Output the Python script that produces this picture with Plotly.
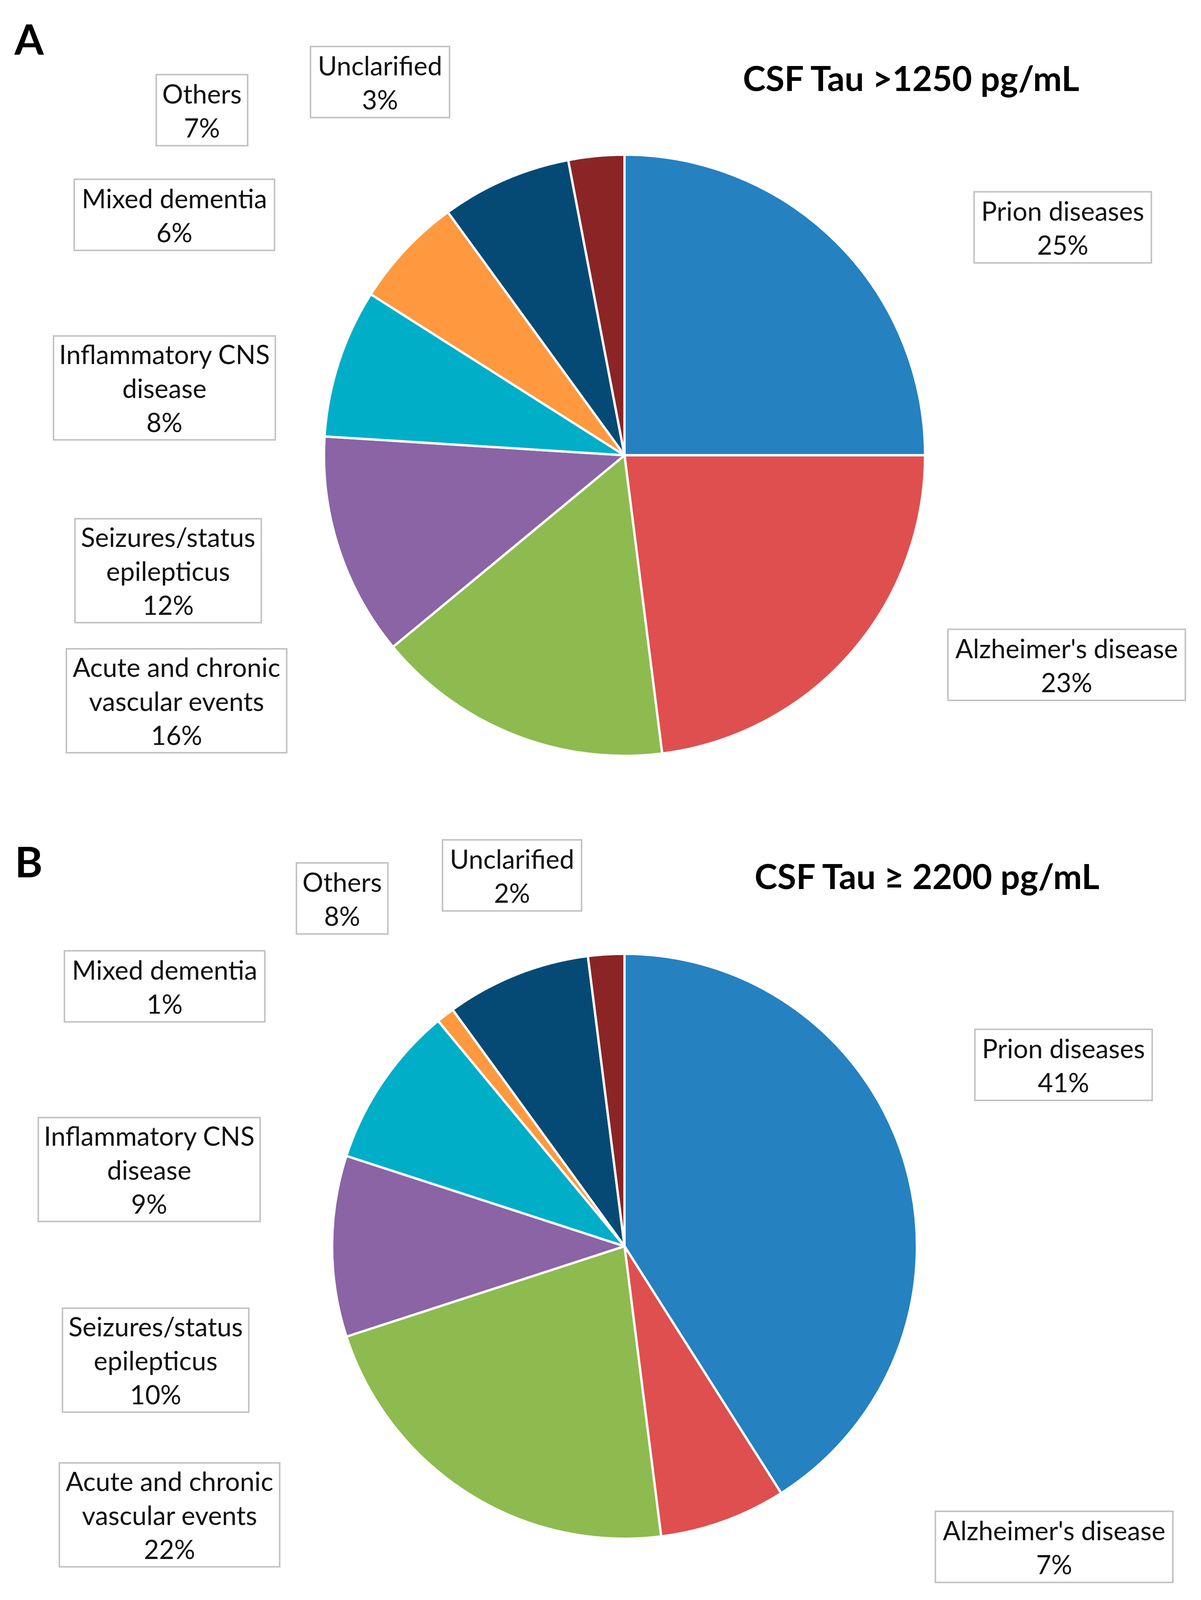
import plotly.graph_objects as go

# Reference frame (pixel coordinates measured on the reference picture)
REF_W, REF_H = 3075, 4333
# Browser viewport actually available for the figure
W, H = 3075, 4096

categories = ["Prion diseases", "Alzheimer's disease", "Acute and chronic<br>vascular events",
              "Seizures/status<br>epilepticus", "Inflammatory CNS<br>disease", "Mixed dementia",
              "Others", "Unclarified"]
values_a = [25, 23, 16, 12, 8, 6, 7, 3]
values_b = [41, 7, 22, 10, 9, 1, 8, 2]
colors = ["#2581C0", "#DF4F4F", "#8DBB4F", "#8A64A5", "#00AEC7", "#FF9940", "#044A75", "#8B2525"]
title_a = "CSF Tau >1250 pg/mL"
title_b = "CSF Tau ≥ 2200 pg/mL"
panel_a = "A"
panel_b = "B"

# ---- layout (reference-frame pixels) ----
box_w = [458, 612, 568, 481, 572, 517, 238, 360]
pos_a = [(2721, 616), (2731, 1801), (452, 1898), (430, 1546), (421, 1050), (446, 582), (517, 298), (973, 222)]
pos_b = [(2723, 2884), (2699, 4189), (434, 4102), (398, 3684), (382, 3167), (421, 2671), (876, 2433), (1311, 2371)]
pie_a = (1599, 1233, 814)
pie_b = (1599, 3375, 792)


def fx(x):
    return x / REF_W


def fy(y):
    return 1 - y / REF_H


SY = H / REF_H  # vertical scale between reference and viewport

fig = go.Figure()


def add_pie(vals, geom):
    cx, cy, r = geom
    fig.add_trace(go.Pie(
        labels=categories, values=vals, sort=False, direction="clockwise", rotation=0,
        marker=dict(colors=colors, line=dict(color="white", width=6)),
        textinfo="none", hoverinfo="label+percent", showlegend=False,
        domain=dict(x=[fx(cx - r), fx(cx + r)], y=[fy(cy + r), fy(cy - r)]),
    ))


add_pie(values_a, pie_a)
add_pie(values_b, pie_b)

annotations = []
FONT = "Lato"
pad = 12
bwid = 4
for vals, pos in ((values_a, pos_a), (values_b, pos_b)):
    for cat, v, (x, y), bw in zip(categories, vals, pos, box_w):
        nlines = cat.count("<br>") + 2
        bh = (197 if nlines == 2 else 286) * SY
        annotations.append(dict(
            text=f"{cat}<br>{v}%", x=fx(x), y=fy(y), xref="paper", yref="paper",
            xanchor="center", yanchor="middle", showarrow=False, align="center", valign="middle",
            font=dict(family=FONT, size=67, color="#111111"),
            bordercolor="#C4C4C4", borderwidth=bwid, borderpad=pad,
            width=bw - 2 * (pad + bwid), height=bh - 2 * (pad + bwid), bgcolor="white",
        ))

for txt, (x, y) in ((title_a, (2333, 210)), (title_b, (2373, 2372))):
    annotations.append(dict(text=f"<b>{txt}</b>", x=fx(x), y=fy(y), xref="paper", yref="paper",
                            xanchor="center", yanchor="middle", showarrow=False,
                            font=dict(family=FONT, size=88, color="black")))

for txt, (x, y) in ((panel_a, (74, 104)), (panel_b, (73, 2332))):
    annotations.append(dict(text=f"<b>{txt}</b>", x=fx(x), y=fy(y), xref="paper", yref="paper",
                            xanchor="center", yanchor="middle", showarrow=False,
                            font=dict(family=FONT, size=108, color="black")))

fig.update_layout(
    width=W, height=H, margin=dict(l=0, r=0, t=0, b=0),
    paper_bgcolor="white", plot_bgcolor="white",
    annotations=annotations,
)

fig.write_html("out.html", config={"displayModeBar": False},
               post_script="document.body.style.margin='0';document.body.style.overflow='hidden';")
